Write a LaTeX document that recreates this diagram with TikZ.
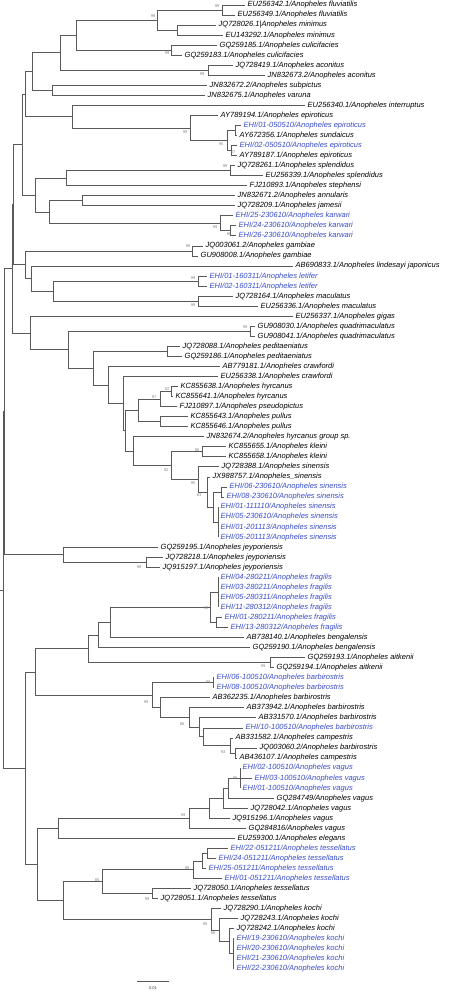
\documentclass[tikz,border=0pt]{standalone}
\usepackage{fontspec}
\setmainfont{Liberation Sans}
\definecolor{ehiblue}{RGB}{55,75,200}

\begin{document}
\begin{tikzpicture}[x=1pt, y=-1pt,
	br/.style={draw=black!65, line width=0.8pt},
	lab/.style={anchor=west, inner xsep=2.5pt, inner ysep=0pt, font=\fontsize{7.5}{8}\selectfont\itshape},
	ehi/.style={lab, text=ehiblue},
	bs/.style={inner sep=0pt, text=black!50, font=\fontsize{4}{4}\selectfont}]
	\useasboundingbox (0,0) rectangle (449,992);

	% leaves
	\node[lab] (l1) at (245,5) {EU256342.1/Anopheles fluviatilis};
	\node[lab] (l2) at (235,15) {EU256349.1/Anopheles fluviatilis};
	\node[lab] (l3) at (216,25.1) {JQ728026.1|Anopheles minimus};
	\node[lab] (l4) at (223,35.1) {EU143292.1/Anopheles minimus};
	\node[lab] (l5) at (217,45.2) {GQ259185.1/Anopheles culicifacies};
	\node[lab] (l6) at (182,55.2) {GQ259183.1/Anopheles culicifacies};
	\node[lab] (l7) at (233,65.2) {JQ728419.1/Anopheles aconitus};
	\node[lab] (l8) at (265,75.3) {JN832673.2/Anopheles aconitus};
	\node[lab] (l9) at (207,85.3) {JN832672.2/Anopheles subpictus};
	\node[lab] (l10) at (205,95.4) {JN832675.1/Anopheles varuna};
	\node[lab] (l11) at (305,105.4) {EU256340.1/Anopheles interruptus};
	\node[lab] (l12) at (218,115.4) {AY789194.1/Anopheles epiroticus};
	\node[ehi] (l13) at (241,125.5) {EHI/01-050510/Anopheles epiroticus};
	\node[lab] (l14) at (237,135.5) {AY672356.1/Anopheles sundaicus};
	\node[ehi] (l15) at (237,145.6) {EHI/02-050510/Anopheles epiroticus};
	\node[lab] (l16) at (237,155.6) {AY789187.1/Anopheles epiroticus};
	\node[lab] (l17) at (235,165.6) {JQ728261.1/Anopheles splendidus};
	\node[lab] (l18) at (263,175.7) {EU256339.1/Anopheles splendidus};
	\node[lab] (l19) at (247,185.7) {FJ210893.1/Anopheles stephensi};
	\node[lab] (l20) at (235,195.8) {JN832671.2/Anopheles annularis};
	\node[lab] (l21) at (235,205.8) {JQ728209.1/Anopheles jamesii};
	\node[ehi] (l22) at (233,215.8) {EHI/25-230610/Anopheles karwari};
	\node[ehi] (l23) at (236,225.9) {EHI/24-230610/Anopheles karwari};
	\node[ehi] (l24) at (236,235.9) {EHI/26-230610/Anopheles karwari};
	\node[lab] (l25) at (203,246) {JQ003061.2/Anopheles gambiae};
	\node[lab] (l26) at (198,256) {GU908008.1/Anopheles gambiae};
	\node[lab] (l27) at (293,266) {AB690833.1/Anopheles lindesayi japonicus};
	\node[ehi] (l28) at (207,276.1) {EHI/01-160311/Anopheles letifer};
	\node[ehi] (l29) at (207,286.1) {EHI/02-160311/Anopheles letifer};
	\node[lab] (l30) at (233,296.2) {JQ728164.1/Anopheles maculatus};
	\node[lab] (l31) at (258,306.2) {EU256336.1/Anopheles maculatus};
	\node[lab] (l32) at (293,316.2) {EU256337.1/Anopheles gigas};
	\node[lab] (l33) at (255,326.3) {GU908030.1/Anopheles quadrimaculatus};
	\node[lab] (l34) at (255,336.3) {GU908041.1/Anopheles quadrimaculatus};
	\node[lab] (l35) at (180,346.4) {JQ728088.1/Anopheles peditaeniatus};
	\node[lab] (l36) at (182,356.4) {GQ259186.1/Anopheles peditaeniatus};
	\node[lab] (l37) at (220,366.4) {AB779181.1/Anopheles crawfordi};
	\node[lab] (l38) at (218,376.5) {EU256338.1/Anopheles crawfordi};
	\node[lab] (l39) at (178,386.5) {KC855638.1/Anopheles hyrcanus};
	\node[lab] (l40) at (173,396.6) {KC855641.1/Anopheles hyrcanus};
	\node[lab] (l41) at (177,406.6) {FJ210897.1/Anopheles pseudopictus};
	\node[lab] (l42) at (188,416.6) {KC855643.1/Anopheles pullus};
	\node[lab] (l43) at (188,426.7) {KC855646.1/Anopheles pullus};
	\node[lab] (l44) at (204,436.7) {JN832674.2/Anopheles hyrcanus group sp.};
	\node[lab] (l45) at (226,446.8) {KC855655.1/Anopheles kleini};
	\node[lab] (l46) at (226,456.8) {KC855658.1/Anopheles kleini};
	\node[lab] (l47) at (219,466.8) {JQ728388.1/Anopheles sinensis};
	\node[lab] (l48) at (210,476.9) {JX988757.1/Anopheles\_sinensis};
	\node[ehi] (l49) at (227,486.9) {EHI/06-230610/Anopheles sinensis};
	\node[ehi] (l50) at (224,497) {EHI/08-230610/Anopheles sinensis};
	\node[ehi] (l51) at (218,507) {EHI/01-111110/Anopheles sinensis};
	\node[ehi] (l52) at (218,517) {EHI/05-230610/Anopheles sinensis};
	\node[ehi] (l53) at (218,527.1) {EHI/01-201113/Anopheles sinensis};
	\node[ehi] (l54) at (218,537.1) {EHI/05-201113/Anopheles sinensis};
	\node[lab] (l55) at (158,547.2) {GQ259195.1/Anopheles jeyporiensis};
	\node[lab] (l56) at (163,557.2) {JQ728218.1/Anopheles jeyporiensis};
	\node[lab] (l57) at (160,567.2) {JQ915197.1/Anopheles jeyporiensis};
	\node[ehi] (l58) at (218,577.3) {EHI/04-280211/Anopheles fragilis};
	\node[ehi] (l59) at (218,587.3) {EHI/03-280211/Anopheles fragilis};
	\node[ehi] (l60) at (218,597.4) {EHI/05-280311/Anopheles fragilis};
	\node[ehi] (l61) at (218,607.4) {EHI/11-280312/Anopheles fragilis};
	\node[ehi] (l62) at (222,617.4) {EHI/01-280211/Anopheles fragilis};
	\node[ehi] (l63) at (228,627.5) {EHI/13-280312/Anopheles fragilis};
	\node[lab] (l64) at (244,637.5) {AB738140.1/Anopheles bengalensis};
	\node[lab] (l65) at (250,647.6) {GQ259190.1/Anopheles bengalensis};
	\node[lab] (l66) at (305,657.6) {GQ259193.1/Anopheles aitkenii};
	\node[lab] (l67) at (274,667.6) {GQ259194.1/Anopheles aitkenii};
	\node[ehi] (l68) at (214,677.7) {EHI/06-100510/Anopheles barbirostris};
	\node[ehi] (l69) at (214,687.7) {EHI/08-100510/Anopheles barbirostris};
	\node[lab] (l70) at (210,697.8) {AB362235.1/Anopheles barbirostris};
	\node[lab] (l71) at (244,707.8) {AB373942.1/Anopheles barbirostris};
	\node[lab] (l72) at (256,717.8) {AB331570.1/Anopheles barbirostris};
	\node[ehi] (l73) at (243,727.9) {EHI/10-100510/Anopheles barbirostris};
	\node[lab] (l74) at (233,737.9) {AB331582.1/Anopheles campestris};
	\node[lab] (l75) at (257,748) {JQ003060.2/Anopheles barbirostris};
	\node[lab] (l76) at (237,758) {AB436107.1/Anopheles campestris};
	\node[ehi] (l77) at (240,768) {EHI/02-100510/Anopheles vagus};
	\node[ehi] (l78) at (252,778.1) {EHI/03-100510/Anopheles vagus};
	\node[ehi] (l79) at (240,788.1) {EHI/01-100510/Anopheles vagus};
	\node[lab] (l80) at (274,798.2) {GQ284749/Anopheles vagus};
	\node[lab] (l81) at (248,808.2) {JQ728042.1/Anopheles vagus};
	\node[lab] (l82) at (230,818.2) {JQ915196.1/Anopheles vagus};
	\node[lab] (l83) at (246,828.3) {GQ284816/Anopheles vagus};
	\node[lab] (l84) at (235,838.3) {EU259300.1/Anopheles elegans};
	\node[ehi] (l85) at (228,848.4) {EHI/22-051211/Anopheles tessellatus};
	\node[ehi] (l86) at (216,858.4) {EHI/24-051211/Anopheles tessellatus};
	\node[ehi] (l87) at (206,868.4) {EHI/25-051211/Anopheles tessellatus};
	\node[ehi] (l88) at (222,878.5) {EHI/01-051211/Anopheles tessellatus};
	\node[lab] (l89) at (191,888.5) {JQ728050.1/Anopheles tessellatus};
	\node[lab] (l90) at (158,898.6) {JQ728051.1/Anopheles tessellatus};
	\node[lab] (l91) at (221,908.6) {JQ728290.1/Anopheles kochi};
	\node[lab] (l92) at (238,918.6) {JQ728243.1/Anopheles kochi};
	\node[lab] (l93) at (234,928.7) {JQ728242.1/Anopheles kochi};
	\node[ehi] (l94) at (234,938.7) {EHI/19-230610/Anopheles kochi};
	\node[ehi] (l95) at (234,948.8) {EHI/20-230610/Anopheles kochi};
	\node[ehi] (l96) at (234,958.8) {EHI/21-230610/Anopheles kochi};
	\node[ehi] (l97) at (234,968.8) {EHI/22-230610/Anopheles kochi};

	% internal nodes
	\coordinate (fluv) at (222,10);
	\coordinate (mini) at (177,30.1);
	\coordinate (nA) at (157,20.05);
	\coordinate (culi) at (171,50.2);
	\coordinate (nB) at (76,35.1);
	\coordinate (acon) at (208,70.25);
	\coordinate (nC) at (60,52.7);
	\coordinate (nE) at (52,90.35);
	\coordinate (nD) at (32,71.5);
	\coordinate (nJ) at (235,130.5);
	\coordinate (nK) at (231,150.6);
	\coordinate (nI) at (227,140.55);
	\coordinate (nH) at (190,128);
	\coordinate (nF) at (72,116.7);
	\coordinate (nG) at (25,94.1);
	\coordinate (splen) at (230,170.65);
	\coordinate (nM) at (66,178.2);
	\coordinate (nO) at (82,200.8);
	\coordinate (karB) at (230,230.9);
	\coordinate (karA) at (220,223.4);
	\coordinate (nN) at (49,212.1);
	\coordinate (nQ) at (35,195.15);
	\coordinate (nR) at (22,144.6);
	\coordinate (gamb) at (192,251);
	\coordinate (leti) at (198,281.1);
	\coordinate (macu) at (198,301.2);
	\coordinate (nW) at (53,291.15);
	\coordinate (nX) at (31,278.6);
	\coordinate (nY) at (25,264.8);
	\coordinate (nT2) at (13.5,204.7);
	\coordinate (quad) at (250,331.3);
	\coordinate (pedi) at (167,351.4);
	\coordinate (hyrA) at (171,391.55);
	\coordinate (hyrB) at (160,399.1);
	\coordinate (pull) at (160,421.65);
	\coordinate (hyrC) at (138,410.4);
	\coordinate (klei) at (202,451.8);
	\coordinate (sinQ) at (221,491.95);
	\coordinate (sinR) at (218,522.05);
	\coordinate (sinS) at (213,507);
	\coordinate (sinP) at (207,491.95);
	\coordinate (sinO) at (198,479.4);
	\coordinate (sinL) at (171,465.6);
	\coordinate (sinK) at (133,451.15);
	\coordinate (nII) at (125,430.8);
	\coordinate (nDD) at (123,403.6);
	\coordinate (nCC) at (108,385);
	\coordinate (nBB) at (93,368.2);
	\coordinate (nAA) at (68,349.75);
	\coordinate (nZ) at (30,333);
	\coordinate (nT3) at (12.5,268.85);
	\coordinate (jeyU) at (146,562.2);
	\coordinate (jeyT) at (63,554.7);
	\coordinate (nV1) at (4,411.8);
	\coordinate (fragR) at (218,592.35);
	\coordinate (fragV) at (216,622.45);
	\coordinate (fragW) at (210,607.4);
	\coordinate (beng) at (110,622.45);
	\coordinate (bengB) at (98,635);
	\coordinate (aitk) at (270,662.6);
	\coordinate (nZZ) at (88,648.8);
	\coordinate (barC) at (213,682.7);
	\coordinate (campI) at (235,753);
	\coordinate (campH) at (230,745.45);
	\coordinate (barG) at (203,736.7);
	\coordinate (barF) at (199,727.25);
	\coordinate (barE) at (189,717.5);
	\coordinate (barD) at (160,707.7);
	\coordinate (barB) at (152,695.2);
	\coordinate (nAAA) at (35,672);
	\coordinate (vagJ) at (240,778.05);
	\coordinate (vagK) at (228,788.1);
	\coordinate (vagM) at (223,798.15);
	\coordinate (vagL) at (209,808.2);
	\coordinate (vagN) at (189,818.25);
	\coordinate (eleg) at (58,828.3);
	\coordinate (tesP) at (207,853.4);
	\coordinate (tesQ) at (202,860.9);
	\coordinate (tesR) at (193,869.7);
	\coordinate (tesT) at (152,893.55);
	\coordinate (tesS) at (102,881.6);
	\coordinate (kocX) at (233,953.75);
	\coordinate (kocW) at (229,941.2);
	\coordinate (kocV) at (219,929.9);
	\coordinate (kocU) at (211,919.25);
	\coordinate (nYYY) at (63,900.4);
	\coordinate (nZZZ) at (37,864.35);
	\coordinate (nU) at (25,768.2);
	\coordinate (root) at (3.3,590);
	\coordinate (rootend) at (0,590);

	% branches
	\draw[br] (fluv) |- (l1.west) (fluv) |- (l2.west);
	\draw[br] (mini) |- (l3.west) (mini) |- (l4.west);
	\draw[br] (nA) |- (fluv) (nA) |- (mini);
	\draw[br] (culi) |- (l5.west) (culi) |- (l6.west);
	\draw[br] (nB) |- (nA) (nB) |- (culi);
	\draw[br] (acon) |- (l7.west) (acon) |- (l8.west);
	\draw[br] (nC) |- (nB) (nC) |- (acon);
	\draw[br] (nE) |- (l9.west) (nE) |- (l10.west);
	\draw[br] (nD) |- (nC) (nD) |- (nE);
	\draw[br] (nJ) |- (l13.west) (nJ) |- (l14.west);
	\draw[br] (nK) |- (l15.west) (nK) |- (l16.west);
	\draw[br] (nI) |- (nJ) (nI) |- (nK);
	\draw[br] (nH) |- (l12.west) (nH) |- (nI);
	\draw[br] (nF) |- (l11.west) (nF) |- (nH);
	\draw[br] (nG) |- (nD) (nG) |- (nF);
	\draw[br] (splen) |- (l17.west) (splen) |- (l18.west);
	\draw[br] (nM) |- (splen) (nM) |- (l19.west);
	\draw[br] (nO) |- (l20.west) (nO) |- (l21.west);
	\draw[br] (karB) |- (l23.west) (karB) |- (l24.west);
	\draw[br] (karA) |- (l22.west) (karA) |- (karB);
	\draw[br] (nN) |- (nO) (nN) |- (karA);
	\draw[br] (nQ) |- (nM) (nQ) |- (nN);
	\draw[br] (nR) |- (nG) (nR) |- (nQ);
	\draw[br] (gamb) |- (l25.west) (gamb) |- (l26.west);
	\draw[br] (leti) |- (l28.west) (leti) |- (l29.west);
	\draw[br] (macu) |- (l30.west) (macu) |- (l31.west);
	\draw[br] (nW) |- (leti) (nW) |- (macu);
	\draw[br] (nX) |- (l27.west) (nX) |- (nW);
	\draw[br] (nY) |- (gamb) (nY) |- (nX);
	\draw[br] (nT2) |- (nR) (nT2) |- (nY);
	\draw[br] (quad) |- (l33.west) (quad) |- (l34.west);
	\draw[br] (pedi) |- (l35.west) (pedi) |- (l36.west);
	\draw[br] (hyrA) |- (l39.west) (hyrA) |- (l40.west);
	\draw[br] (hyrB) |- (hyrA) (hyrB) |- (l41.west);
	\draw[br] (pull) |- (l42.west) (pull) |- (l43.west);
	\draw[br] (hyrC) |- (hyrB) (hyrC) |- (pull);
	\draw[br] (klei) |- (l45.west) (klei) |- (l46.west);
	\draw[br] (sinQ) |- (l49.west) (sinQ) |- (l50.west);
	\draw[br] (sinR) |- (l51.west) (sinR) |- (l52.west) (sinR) |- (l53.west) (sinR) |- (l54.west);
	\draw[br] (sinS) |- (sinQ) (sinS) |- (sinR);
	\draw[br] (sinP) |- (l48.west) (sinP) |- (sinS);
	\draw[br] (sinO) |- (l47.west) (sinO) |- (sinP);
	\draw[br] (sinL) |- (klei) (sinL) |- (sinO);
	\draw[br] (sinK) |- (l44.west) (sinK) |- (sinL);
	\draw[br] (nII) |- (hyrC) (nII) |- (sinK);
	\draw[br] (nDD) |- (l38.west) (nDD) |- (nII);
	\draw[br] (nCC) |- (l37.west) (nCC) |- (nDD);
	\draw[br] (nBB) |- (pedi) (nBB) |- (nCC);
	\draw[br] (nAA) |- (quad) (nAA) |- (nBB);
	\draw[br] (nZ) |- (l32.west) (nZ) |- (nAA);
	\draw[br] (nT3) |- (nT2) (nT3) |- (nZ);
	\draw[br] (jeyU) |- (l56.west) (jeyU) |- (l57.west);
	\draw[br] (jeyT) |- (l55.west) (jeyT) |- (jeyU);
	\draw[br] (nV1) |- (nT3) (nV1) |- (jeyT);
	\draw[br] (fragR) |- (l58.west) (fragR) |- (l59.west) (fragR) |- (l60.west) (fragR) |- (l61.west);
	\draw[br] (fragV) |- (l62.west) (fragV) |- (l63.west);
	\draw[br] (fragW) |- (fragR) (fragW) |- (fragV);
	\draw[br] (beng) |- (fragW) (beng) |- (l64.west);
	\draw[br] (bengB) |- (beng) (bengB) |- (l65.west);
	\draw[br] (aitk) |- (l66.west) (aitk) |- (l67.west);
	\draw[br] (nZZ) |- (bengB) (nZZ) |- (aitk);
	\draw[br] (barC) |- (l68.west) (barC) |- (l69.west);
	\draw[br] (campI) |- (l75.west) (campI) |- (l76.west);
	\draw[br] (campH) |- (l74.west) (campH) |- (campI);
	\draw[br] (barG) |- (l73.west) (barG) |- (campH);
	\draw[br] (barF) |- (l72.west) (barF) |- (barG);
	\draw[br] (barE) |- (l71.west) (barE) |- (barF);
	\draw[br] (barD) |- (l70.west) (barD) |- (barE);
	\draw[br] (barB) |- (barC) (barB) |- (barD);
	\draw[br] (nAAA) |- (nZZ) (nAAA) |- (barB);
	\draw[br] (vagJ) |- (l77.west) (vagJ) |- (l78.west) (vagJ) |- (l79.west);
	\draw[br] (vagK) |- (vagJ) (vagK) |- (l80.west);
	\draw[br] (vagM) |- (vagK) (vagM) |- (l81.west);
	\draw[br] (vagL) |- (vagM) (vagL) |- (l82.west);
	\draw[br] (vagN) |- (vagL) (vagN) |- (l83.west);
	\draw[br] (eleg) |- (vagN) (eleg) |- (l84.west);
	\draw[br] (tesP) |- (l85.west) (tesP) |- (l86.west);
	\draw[br] (tesQ) |- (tesP) (tesQ) |- (l87.west);
	\draw[br] (tesR) |- (tesQ) (tesR) |- (l88.west);
	\draw[br] (tesT) |- (l89.west) (tesT) |- (l90.west);
	\draw[br] (tesS) |- (tesR) (tesS) |- (tesT);
	\draw[br] (kocX) |- (l94.west) (kocX) |- (l95.west) (kocX) |- (l96.west) (kocX) |- (l97.west);
	\draw[br] (kocW) |- (l93.west) (kocW) |- (kocX);
	\draw[br] (kocV) |- (l92.west) (kocV) |- (kocW);
	\draw[br] (kocU) |- (l91.west) (kocU) |- (kocV);
	\draw[br] (nYYY) |- (tesS) (nYYY) |- (kocU);
	\draw[br] (nZZZ) |- (eleg) (nZZZ) |- (nYYY);
	\draw[br] (nU) |- (nAAA) (nU) |- (nZZZ);
	\draw[br] (root) |- (nV1) (root) |- (nU);
	\draw[br] (rootend) -- (root);

	% bootstrap values
	\node[bs] (b1) at (217,6) {99};
	\node[bs] (b2) at (153,16) {99};
	\node[bs] (b3) at (167,53) {99};
	\node[bs] (b4) at (202,74) {99};
	\node[bs] (b5) at (185,132) {99};
	\node[bs] (b6) at (221,144) {95};
	\node[bs] (b7) at (233,152) {87};
	\node[bs] (b8) at (225,166) {99};
	\node[bs] (b9) at (215,227) {99};
	\node[bs] (b10) at (229,234) {96};
	\node[bs] (b11) at (188,246) {99};
	\node[bs] (b12) at (193,278) {99};
	\node[bs] (b13) at (193,305) {99};
	\node[bs] (b14) at (245,327) {99};
	\node[bs] (b15) at (167,389) {82};
	\node[bs] (b16) at (154,397) {97};
	\node[bs] (b17) at (197,450) {86};
	\node[bs] (b18) at (166,470) {92};
	\node[bs] (b19) at (193,483) {95};
	\node[bs] (b20) at (199,495) {83};
	\node[bs] (b21) at (139,567) {99};
	\node[bs] (b22) at (206,608) {99};
	\node[bs] (b23) at (263,666) {99};
	\node[bs] (b24) at (208,682) {99};
	\node[bs] (b25) at (146,702) {99};
	\node[bs] (b26) at (182,724) {86};
	\node[bs] (b27) at (223,752) {93};
	\node[bs] (b28) at (235,778) {96};
	\node[bs] (b29) at (183,815) {99};
	\node[bs] (b30) at (187,868) {99};
	\node[bs] (b31) at (97,880) {85};
	\node[bs] (b32) at (147,899) {99};
	\node[bs] (b33) at (205,924) {99};
	\node[bs] (b34) at (213,933) {88};

	% scale bar
	\coordinate (sbl) at (137,981);
	\coordinate (sbr) at (169,981);
	\draw[br] (sbl) -- (sbr);
	\node[bs, text=black!80] (sbt) at (153,988) {0.01};
\end{tikzpicture}
\end{document}
